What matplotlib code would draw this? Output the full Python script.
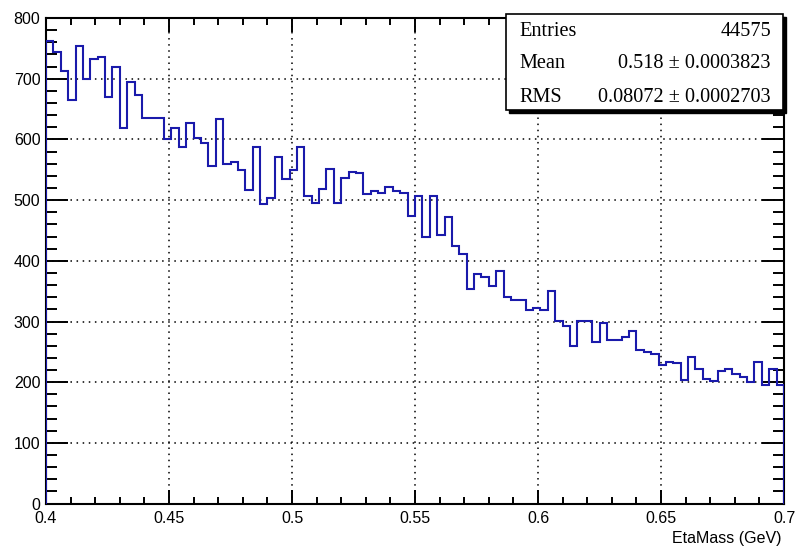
import numpy as np
import matplotlib
matplotlib.use("Agg")
import matplotlib.pyplot as plt
from matplotlib.ticker import MultipleLocator
from matplotlib.patches import Rectangle

# Histogram definition
x_min, x_max, n_bins = 0.4, 0.7, 100
counts = [
    762, 744, 712, 665, 754, 699, 732, 735, 670, 719,
    618, 694, 673, 636, 636, 636, 600, 618, 587, 627,
    603, 594, 556, 634, 559, 562, 550, 517, 587, 493,
    503, 571, 534, 549, 587, 506, 496, 518, 552, 496,
    536, 546, 544, 510, 515, 511, 521, 515, 512, 474,
    506, 440, 507, 443, 472, 425, 412, 354, 379, 374,
    358, 383, 340, 336, 336, 319, 323, 319, 351, 301,
    293, 259, 301, 301, 267, 297, 270, 270, 275, 285,
    253, 250, 246, 228, 234, 231, 203, 241, 221, 206,
    202, 219, 221, 213, 209, 200, 234, 195, 221, 195,
]
x_ticks = [0.4, 0.45, 0.5, 0.55, 0.6, 0.65, 0.7]
x_tick_labels = ["0.4", "0.45", "0.5", "0.55", "0.6", "0.65", "0.7"]
y_ticks = [0, 100, 200, 300, 400, 500, 600, 700, 800]
y_tick_labels = [str(v) for v in y_ticks]
x_label = "EtaMass (GeV)"
stats_names = ["Entries", "Mean", "RMS"]
stats_values = ["44575", "0.518 \u00b1 0.0003823", "0.08072 \u00b1 0.0002703"]

W, H = 797, 547
edges = np.linspace(x_min, x_max, n_bins + 1)

fig = plt.figure(figsize=(W / 100, H / 100), dpi=100)
ax = fig.add_axes([46 / W, (H - 503.6) / H, 738 / W, 485.6 / H])

ax.stairs(counts, edges, color="#1a1aab", lw=1.5, zorder=3)
ax.set_xlim(x_min, x_max)
ax.set_ylim(0, 800)

ax.set_xticks(x_ticks)
ax.set_xticklabels(x_tick_labels)
ax.set_yticks(y_ticks)
ax.set_yticklabels(y_tick_labels)
ax.xaxis.set_minor_locator(MultipleLocator(0.01))
ax.yaxis.set_minor_locator(MultipleLocator(20))

ax.grid(True, which="major", color="black", linestyle=(0, (1, 3)), lw=1.1, zorder=1)
ax.set_axisbelow(True)

font_sans = "Liberation Sans"
ax.tick_params(which="both", direction="in", top=True, right=True,
               width=1.4, color="black", labelsize=11.5)
ax.tick_params(axis="x", which="major", length=10.4, pad=5)
ax.tick_params(axis="x", which="minor", length=5.2)
ax.tick_params(axis="y", which="major", length=15.8, pad=4)
ax.tick_params(axis="y", which="minor", length=7.9)
for lab in ax.get_xticklabels() + ax.get_yticklabels():
    lab.set_fontfamily(font_sans)
for sp in ax.spines.values():
    sp.set_linewidth(1.5)

fig.text(782 / W, 1 - 538 / H, x_label, ha="right", va="center",
         fontsize=11.5, family=font_sans)

# Statistics box with drop shadow
bx0, by0, bx1, by1 = 506, 14, 783, 110
sh = 2.5
shadow = Rectangle(((bx0 + sh) / W, 1 - (by1 + sh) / H), (bx1 - bx0) / W, (by1 - by0) / H,
                   transform=fig.transFigure, facecolor="black", edgecolor="black", zorder=5)
box = Rectangle((bx0 / W, 1 - by1 / H), (bx1 - bx0) / W, (by1 - by0) / H,
                transform=fig.transFigure, facecolor="white", edgecolor="black",
                lw=1.2, zorder=6)
fig.add_artist(shadow)
fig.add_artist(box)

row_y = [32, 64, 97]
for name, val, yy in zip(stats_names, stats_values, row_y):
    fig.text(519 / W, 1 - yy / H, name, ha="left", va="center",
             fontsize=14.6, family="Liberation Serif", zorder=7)
    fig.text(771 / W, 1 - yy / H, val, ha="right", va="center",
             fontsize=14.6, family="Liberation Serif", zorder=7)

fig.savefig("out.png", dpi=100)
